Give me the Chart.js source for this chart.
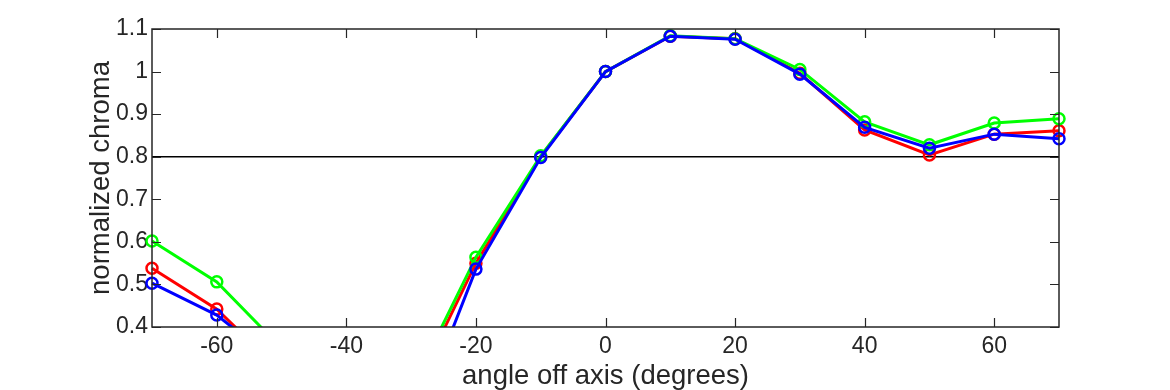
<!DOCTYPE html>
<html>
<head>
<meta charset="utf-8">
<script src="https://cdn.jsdelivr.net/npm/chart.js@4.4.0/dist/chart.umd.min.js"></script>
<style>
  html, body { margin: 0; padding: 0; background: #fff; }
  #wrap { width: 1170px; height: 390px; }
</style>
</head>
<body>
<div id="wrap"><canvas id="chromaChart" width="1170" height="390"></canvas></div>
<script>
// angle off axis (degrees)
const angles = [-70, -60, -50, -40, -30, -20, -10, 0, 10, 20, 30, 40, 50, 60, 70];

// normalized chroma per channel
const redValues   = [0.538, 0.442, 0.294, 0.22, 0.236, 0.550, 0.800, 1.000, 1.083, 1.077, 0.996, 0.863, 0.804, 0.853, 0.861];
const greenValues = [0.602, 0.506, 0.350, 0.26, 0.254, 0.564, 0.802, 1.000, 1.084, 1.077, 1.005, 0.882, 0.828, 0.879, 0.889];
const blueValues  = [0.503, 0.428, 0.307, 0.20, 0.147, 0.536, 0.798, 1.000, 1.083, 1.076, 0.994, 0.869, 0.820, 0.853, 0.842];

// reference threshold line
const thresholdX = [-70, 70];
const thresholdY = [0.8, 0.8];

const xTicks = [-60, -40, -20, 0, 20, 40, 60];
const yTicks = [0.4, 0.5, 0.6, 0.7, 0.8, 0.9, 1.0, 1.1];

const axisColor = '#262626';
const fontFamily = '"Liberation Sans", Arial, Helvetica, sans-serif';

const toPoints = (xs, ys) => xs.map((x, i) => ({ x: x, y: ys[i] }));

const seriesStyle = (label, color, values) => ({
    label: label,
    data: toPoints(angles, values),
    borderColor: color,
    backgroundColor: 'rgba(0,0,0,0)',
    borderWidth: 3,
    pointRadius: 5.5,
    pointBorderWidth: 2.5,
    pointBorderColor: color,
    pointBackgroundColor: 'rgba(0,0,0,0)',
    pointHoverRadius: 5.5,
    tension: 0,
    clip: { left: 10, right: 10, top: 10, bottom: 0 }
});

// inward tick marks + box frame, like the original figure
const frameTicks = {
    id: 'frameTicks',
    afterDraw(chart) {
        const { ctx, chartArea: a, scales } = chart;
        const len = 9;
        ctx.save();
        ctx.strokeStyle = axisColor;
        ctx.lineWidth = 1.2;
        ctx.beginPath();
        xTicks.forEach(v => {
            const px = Math.round(scales.x.getPixelForValue(v)) + 0.5;
            ctx.moveTo(px, a.bottom); ctx.lineTo(px, a.bottom - len);
            ctx.moveTo(px, a.top); ctx.lineTo(px, a.top + len);
        });
        yTicks.forEach(v => {
            const py = Math.round(scales.y.getPixelForValue(v)) + 0.5;
            ctx.moveTo(a.left, py); ctx.lineTo(a.left + len, py);
            ctx.moveTo(a.right, py); ctx.lineTo(a.right - len, py);
        });
        ctx.stroke();
        ctx.lineWidth = 1.5;
        ctx.strokeRect(a.left, a.top, a.right - a.left, a.bottom - a.top);
        ctx.restore();
    }
};

const ctx = document.getElementById('chromaChart').getContext('2d');
new Chart(ctx, {
    type: 'line',
    data: {
        datasets: [
            seriesStyle('blue', '#0000ff', blueValues),
            seriesStyle('green', '#00ff00', greenValues),
            seriesStyle('red', '#ff0000', redValues),
            {
                label: 'threshold',
                data: toPoints(thresholdX, thresholdY),
                borderColor: '#000000',
                borderWidth: 1.6,
                pointRadius: 0,
                tension: 0
            }
        ]
    },
    options: {
        responsive: false,
        animation: false,
        events: [],
        layout: { padding: { left: 0, right: 111, top: 29, bottom: 0 } },
        plugins: { legend: { display: false }, tooltip: { enabled: false } },
        scales: {
            x: {
                type: 'linear',
                min: -70,
                max: 70,
                afterBuildTicks: (scale) => { scale.ticks = xTicks.map(v => ({ value: v })); },
                afterFit: (scale) => { scale.height = 63; },
                grid: { display: false, drawTicks: false },
                border: { display: false },
                ticks: {
                    color: axisColor,
                    padding: 6,
                    maxRotation: 0,
                    font: { family: fontFamily, size: 23 },
                    callback: (v) => String(v)
                },
                title: {
                    display: true,
                    text: 'angle off axis (degrees)',
                    color: axisColor,
                    font: { family: fontFamily, size: 27.5, lineHeight: 1 },
                    padding: { top: 0, bottom: 0 }
                }
            },
            y: {
                type: 'linear',
                min: 0.4,
                max: 1.1,
                afterBuildTicks: (scale) => { scale.ticks = yTicks.map(v => ({ value: v })); },
                afterFit: (scale) => { scale.width = 152; },
                grid: { display: false, drawTicks: false },
                border: { display: false },
                ticks: {
                    color: axisColor,
                    padding: 4,
                    font: { family: fontFamily, size: 23 },
                    callback: (v) => String(Number(v.toFixed(1)))
                },
                title: {
                    display: true,
                    text: 'normalized chroma',
                    color: axisColor,
                    font: { family: fontFamily, size: 27.5, lineHeight: 1 },
                    padding: { top: 88, bottom: 0 }
                }
            }
        }
    },
    plugins: [frameTicks]
});
</script>
</body>
</html>
